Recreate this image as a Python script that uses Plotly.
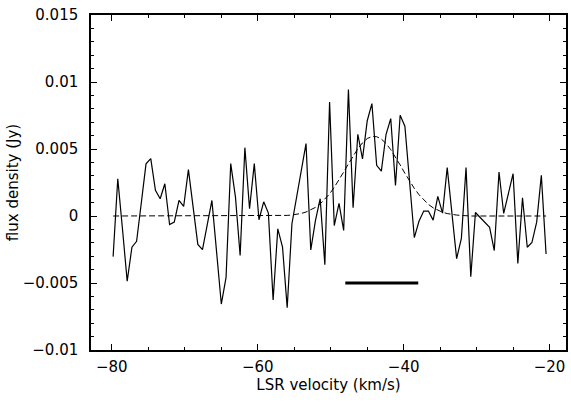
import plotly.graph_objects as go

# LSR velocity channels (km/s)
velocity = [
    -79.82, -79.18, -78.53, -77.89, -77.24, -76.60, -75.95, -75.31, -74.66, -74.02,
    -73.37, -72.73, -72.08, -71.44, -70.79, -70.15, -69.50, -68.86, -68.21, -67.57,
    -66.92, -66.28, -65.63, -64.99, -64.34, -63.70, -63.05, -62.41, -61.76, -61.12,
    -60.47, -59.83, -59.18, -58.54, -57.89, -57.25, -56.60, -55.96, -55.31, -54.67,
    -54.02, -53.38, -52.73, -52.09, -51.44, -50.80, -50.15, -49.51, -48.86, -48.22,
    -47.57, -46.93, -46.28, -45.64, -44.99, -44.35, -43.70, -43.06, -42.41, -41.77,
    -41.12, -40.48, -39.83, -39.19, -38.54, -37.90, -37.25, -36.61, -35.96, -35.32,
    -34.67, -34.03, -33.38, -32.74, -32.09, -31.45, -30.80, -30.16, -29.51, -28.87,
    -28.22, -27.58, -26.93, -26.29, -25.64, -25.00, -24.35, -23.71, -23.06, -22.42,
    -21.77, -21.13, -20.48,
]

# observed flux density (mJy)
flux_mjy = [
    -3.03, 2.78, -1.01, -4.86, -2.33, -1.89, 1.01, 3.89, 4.28, 1.91,
    1.29, 2.41, -0.64, -0.45, 1.16, 0.71, 3.46, 0.71, -2.12, -2.51,
    -0.64, 1.16, -2.73, -6.57, -4.58, 3.91, 1.41, -2.95, 5.10, 0.54,
    3.91, -0.28, 1.06, 0.22, -6.27, -0.96, -2.33, -6.85, -0.58, 1.41,
    3.40, 5.40, -2.53, -0.34, 1.29, -3.63, 8.51, -0.71, 0.94, -1.08,
    9.44, 0.61, 6.10, 4.26, 7.11, 8.39, 3.78, 3.35, 6.10, 7.27,
    2.28, 7.52, 6.70, 2.58, -1.61, -0.39, 0.37, 0.37, -0.31, 1.46,
    0.21, 3.61, 0.34, -3.18, -1.68, 3.61, -4.53, 0.26, -0.11, -0.46,
    -0.84, -2.58, 3.28, 0.19, 1.66, 3.16, -3.55, 1.36, -2.33, -1.98,
    -0.46, 3.03, -2.83,
]

# Gaussian model curve (mJy)
model_mjy = [
    0, 0, 0, 0, 0, 0, 0, 0, 0, 0,
    0, 0, 0, 0, 0, 0, 0, 0, 0, 0,
    0, 0, 0, 0, 0, 0, 0, 0, 0, 0,
    0, 0, 0, 0, 0, 0, 0, 0.045, 0.075, 0.122,
    0.193, 0.296, 0.443, 0.643, 0.905, 1.24, 1.65, 2.14, 2.69, 3.28,
    3.89, 4.48, 5.02, 5.46, 5.78, 5.93, 5.92, 5.74, 5.41, 4.95,
    4.40, 3.81, 3.19, 2.60, 2.06, 1.59, 1.19, 0.865, 0.611, 0.419,
    0.280, 0.181, 0.114, 0.070, 0.042, 0, 0, 0, 0, 0,
    0, 0, 0, 0, 0, 0, 0, 0, 0, 0,
    0, 0, 0,
]

# velocity range marker
bar_velocity = [-48.0, -38.0]
bar_flux = [-0.005, -0.005]

x_tickvals = [-80, -60, -40, -20]
x_ticktext = ["\u221280", "\u221260", "\u221240", "\u221220"]
y_tickvals = [-0.01, -0.005, 0, 0.005, 0.01, 0.015]
y_ticktext = ["\u22120.01", "\u22120.005", "0", "0.005", "0.01", "0.015"]

flux = [v / 1000.0 for v in flux_mjy]
model = [v / 1000.0 for v in model_mjy]

fig = go.Figure()
fig.add_trace(go.Scatter(
    x=velocity, y=model, mode="lines",
    line=dict(color="black", width=1, dash="6px,3px"),
    showlegend=False, hoverinfo="skip",
))
fig.add_trace(go.Scatter(
    x=velocity, y=flux, mode="lines",
    line=dict(color="black", width=1.2),
    showlegend=False,
))
fig.add_trace(go.Scatter(
    x=bar_velocity, y=bar_flux, mode="lines",
    line=dict(color="black", width=3),
    showlegend=False,
))

axis_common = dict(
    showgrid=False, zeroline=False, automargin=False,
    showline=True, linecolor="black", linewidth=1.5, mirror="allticks",
    ticks="inside", ticklen=6, tickwidth=1, tickcolor="black",
    tickfont=dict(family="DejaVu Sans", size=15, color="black"),
    ticklabeloverflow="allow",
)

fig.update_xaxes(
    range=[-82.85, -17.75],
    tickvals=x_tickvals, ticktext=x_ticktext,
    minor=dict(ticks="inside", ticklen=3, dtick=5, tick0=0, tickcolor="black"),
    title=dict(text="LSR velocity (km/s)", font=dict(family="DejaVu Sans", size=15, color="black"), standoff=2),
    ticklabelstandoff=2,
    **axis_common,
)
fig.update_yaxes(
    range=[-0.01, 0.015],
    tickvals=y_tickvals, ticktext=y_ticktext,
    minor=dict(ticks="inside", ticklen=3, dtick=0.001, tick0=0, tickcolor="black"),
    title=dict(text="flux density (Jy)", font=dict(family="DejaVu Sans", size=15, color="black"), standoff=0),
    ticklabelstandoff=8,
    **axis_common,
)

fig.update_layout(
    width=571, height=403,
    margin=dict(l=91, r=5, t=15, b=53),
    paper_bgcolor="white", plot_bgcolor="white",
    showlegend=False,
)

# remove the browser's default body margin so the figure fills the window exactly
fig.write_html(
    "out.html",
    config={"displayModeBar": False},
    post_script="document.body.style.margin='0';",
)
